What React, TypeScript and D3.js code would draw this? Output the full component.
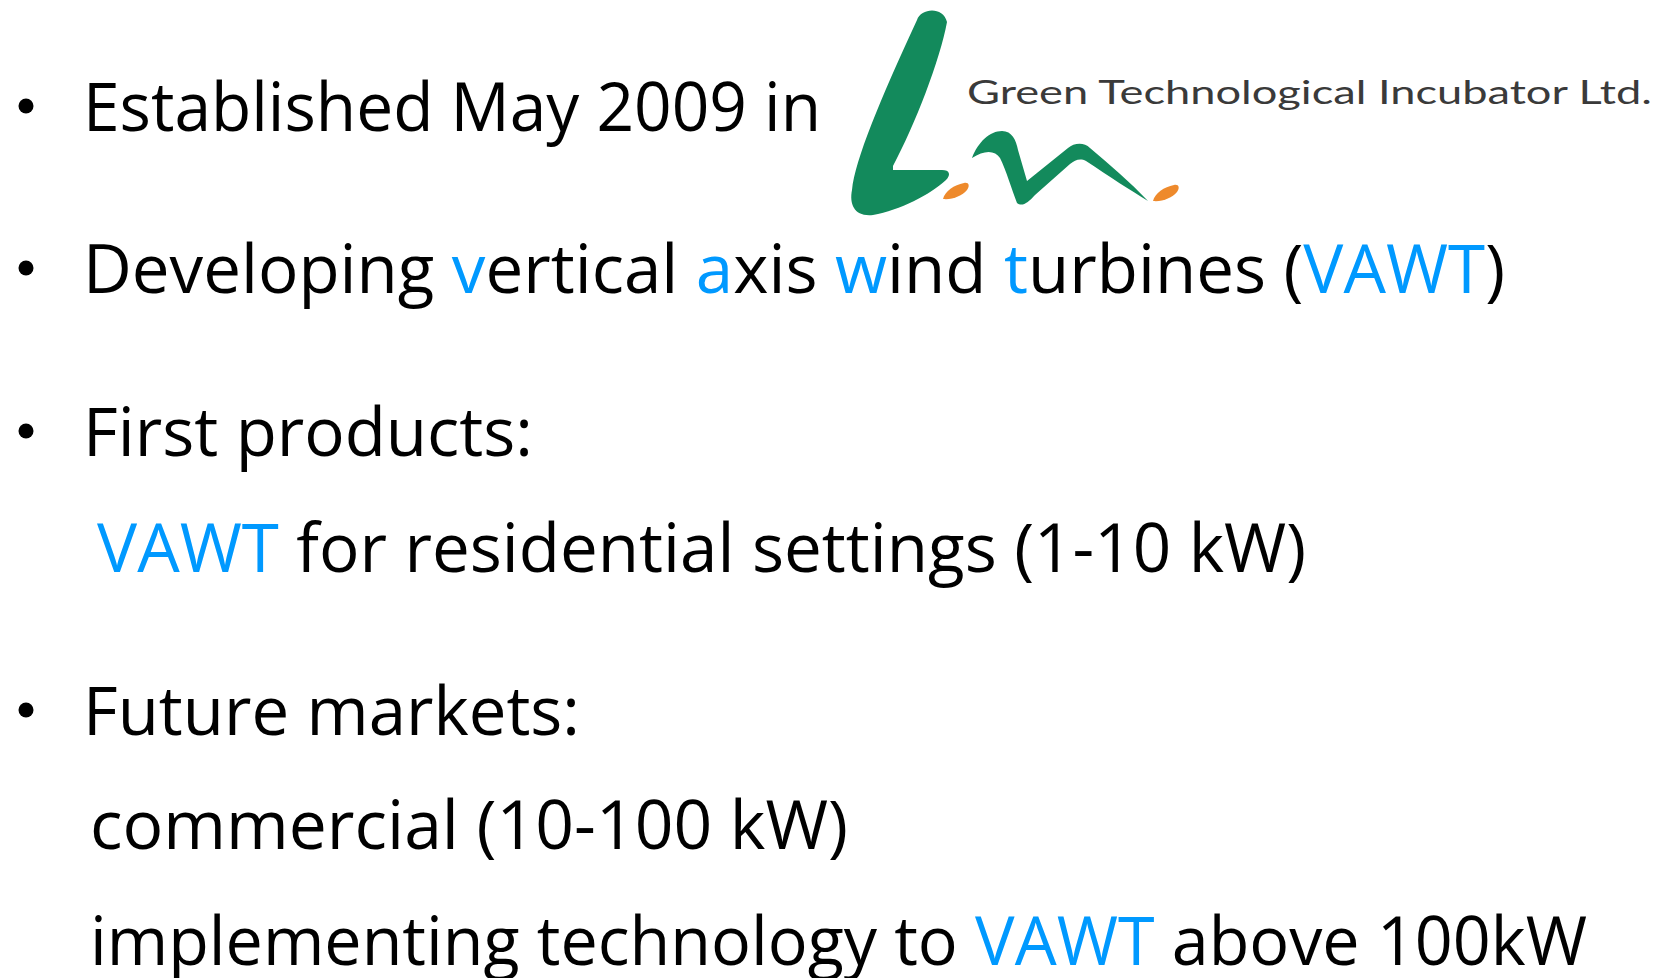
import React, { useEffect, useRef } from 'react';
import * as d3 from 'd3';

interface Segment {
    text: string;
    hl?: boolean;  // highlighted (blue) part
}

// Slide text, one small array per line
const line1: Segment[] = [{ text: 'Established May 2009 in' }];
const line2: Segment[] = [
    { text: 'Developing ' }, { text: 'v', hl: true }, { text: 'ertical ' },
    { text: 'a', hl: true }, { text: 'xis ' }, { text: 'w', hl: true },
    { text: 'ind ' }, { text: 't', hl: true }, { text: 'urbines (' },
    { text: 'VAWT', hl: true }, { text: ')' },
];
const line3: Segment[] = [{ text: 'First products:' }];
const line4: Segment[] = [{ text: 'VAWT', hl: true }, { text: ' for residential settings (1-10 kW)' }];
const line5: Segment[] = [{ text: 'Future markets:' }];
const line6: Segment[] = [{ text: 'commercial (10-100 kW)' }];
const line7: Segment[] = [
    { text: 'implementing technology to ' }, { text: 'VAWT', hl: true }, { text: ' above 100kW' },
];

const lines = [line1, line2, line3, line4, line5, line6, line7];
const bulleted = [true, true, true, false, true, false, false];
const logoText = 'Green Technological Incubator Ltd.';

const W = 1670;
const H = 978;
const BLUE = '#0099ff';
const GREEN = '#138a5c';
const ORANGE = '#ee8a2c';

// layout of the slide (baseline, left x, text length per line)
const baselines = [131, 293, 456, 572, 735, 849, 965];
const startX = [83, 83, 83, 97, 83, 90, 90];
const lengths = [738, 1422, 450, 1209, 497, 758, 1497];

// logo shapes
const logoL = 'M 917 20 C 921 8, 943 6, 947 22 C 940 60, 915 125, 893 166 L 893 170 L 942 170 C 950 170, 951 175, 946 180 C 930 195, 900 210, 873 215 C 855 217, 849 205, 852 190 C 855 160, 880 100, 917 20 Z';
const logoN = 'M 972 158 C 978 142, 990 131, 1002 131 C 1012 131, 1016 140, 1018 150 L 1027 181 L 1068 148 C 1074 143, 1084 142, 1090 148 C 1110 165, 1130 182, 1148 201 C 1130 190, 1110 177, 1086 161 C 1080 158, 1075 160, 1070 164 L 1035 195 C 1028 203, 1022 207, 1017 203 C 1012 190, 1006 170, 1000 158 C 995 150, 984 150, 972 158 Z';
const logoDot = 'M 943 199 C 945 191, 954 185, 964 183 C 969 182, 970 186, 967 190 C 962 196, 952 200, 943 199 Z';

const App: React.FC = () => {
    const svgRef = useRef<SVGSVGElement>(null);

    useEffect(() => {
        if (!svgRef.current) return;
        const svg = d3.select(svgRef.current);
        svg.selectAll('*').remove();

        svg.append('rect').attr('width', W).attr('height', H).attr('fill', '#fff');

        // bullets
        svg.append('g')
            .selectAll('circle')
            .data(lines.map((_, i) => i).filter(i => bulleted[i]))
            .join('circle')
            .attr('cx', 26)
            .attr('cy', i => baselines[i] - 25)
            .attr('r', 7.5)
            .attr('fill', '#000');

        // text lines
        const texts = svg.append('g')
            .selectAll('text')
            .data(lines)
            .join('text')
            .attr('x', (_, i) => startX[i])
            .attr('y', (_, i) => baselines[i])
            .attr('textLength', (_, i) => lengths[i])
            .attr('lengthAdjust', 'spacingAndGlyphs')
            .attr('font-family', '"Open Sans", "DejaVu Sans", sans-serif')
            .attr('font-size', 67)
            .style('white-space', 'pre');

        texts.selectAll('tspan')
            .data(d => d)
            .join('tspan')
            .attr('fill', d => (d.hl ? BLUE : '#000'))
            .text(d => d.text);

        // logo
        const logo = svg.append('g');
        logo.append('path').attr('fill', GREEN).attr('d', logoL);
        logo.append('path').attr('fill', GREEN).attr('d', logoN);
        logo.append('path').attr('fill', ORANGE).attr('d', logoDot);
        logo.append('path').attr('fill', ORANGE).attr('d', logoDot).attr('transform', 'translate(210,2)');

        logo.append('text')
            .attr('x', 967)
            .attr('y', 104)
            .attr('textLength', 685)
            .attr('lengthAdjust', 'spacingAndGlyphs')
            .attr('font-family', 'Lato, "Open Sans", sans-serif')
            .attr('font-size', 33)
            .attr('fill', '#3a3a3a')
            .text(logoText);
    }, []);

    return (
        <svg ref={svgRef} width={W} height={H} style={{ position: 'absolute', left: 0, top: 0 }}></svg>
    );
};

export default App;
